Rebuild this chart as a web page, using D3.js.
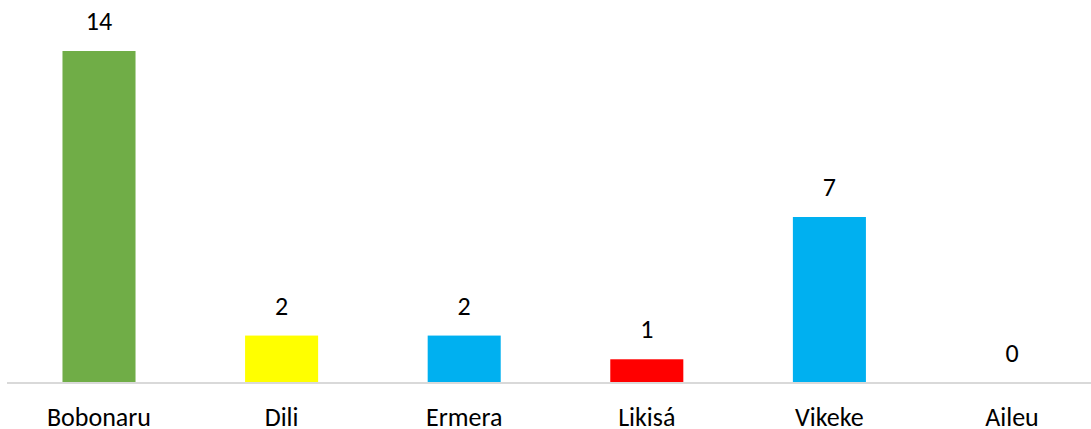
<!DOCTYPE html>
<html>
<head>
<meta charset="utf-8">
<script src="https://cdn.jsdelivr.net/npm/d3@7"></script>
<style>
  body { margin: 0; background: #fff; }
  text { font-family: Carlito, "Open Sans", "Noto Sans", sans-serif; fill: #000; }
</style>
</head>
<body>
<svg id="chart" width="1091" height="429"></svg>
<script>
const districts = ["Bobonaru", "Dili", "Ermera", "Likisá", "Vikeke", "Aileu"];
const counts = [14, 2, 2, 1, 7, 0];
const barColors = ["#70ad47", "#ffff00", "#00b0f0", "#ff0000", "#00b0f0", "#00b0f0"];

const width = 1091;
const baseY = 383;

const svg = d3.select("#chart");

const x = d3.scaleBand().domain(districts).range([7.7, 1103.3]).padding(0);
const y = d3.scaleLinear().domain([0, 14]).range([baseY, 51]);
const barW = x.bandwidth() * 0.4;

const data = districts.map((d, i) => ({ name: d, value: counts[i], color: barColors[i] }));

// bars
svg.selectAll("rect.bar")
  .data(data)
  .join("rect")
  .attr("class", "bar")
  .attr("x", (d) => x(d.name) + (x.bandwidth() - barW) / 2)
  .attr("y", (d) => y(d.value))
  .attr("width", barW)
  .attr("height", (d) => baseY - y(d.value))
  .attr("fill", (d) => d.color);

// baseline
svg.append("line")
  .attr("x1", 7).attr("x2", width)
  .attr("y1", baseY).attr("y2", baseY)
  .attr("stroke", "#d9d9d9")
  .attr("stroke-width", 2);

// value labels
svg.selectAll("text.val")
  .data(data)
  .join("text")
  .attr("class", "val")
  .attr("x", (d) => x(d.name) + x.bandwidth() / 2)
  .attr("y", (d) => y(d.value) - 21)
  .attr("text-anchor", "middle")
  .style("font-size", "26px")
  .text((d) => d.value);

// category labels
svg.selectAll("text.cat")
  .data(data)
  .join("text")
  .attr("class", "cat")
  .attr("x", (d) => x(d.name) + x.bandwidth() / 2)
  .attr("y", 426)
  .attr("text-anchor", "middle")
  .style("font-size", "26px")
  .text((d) => d.name);
</script>
</body>
</html>
